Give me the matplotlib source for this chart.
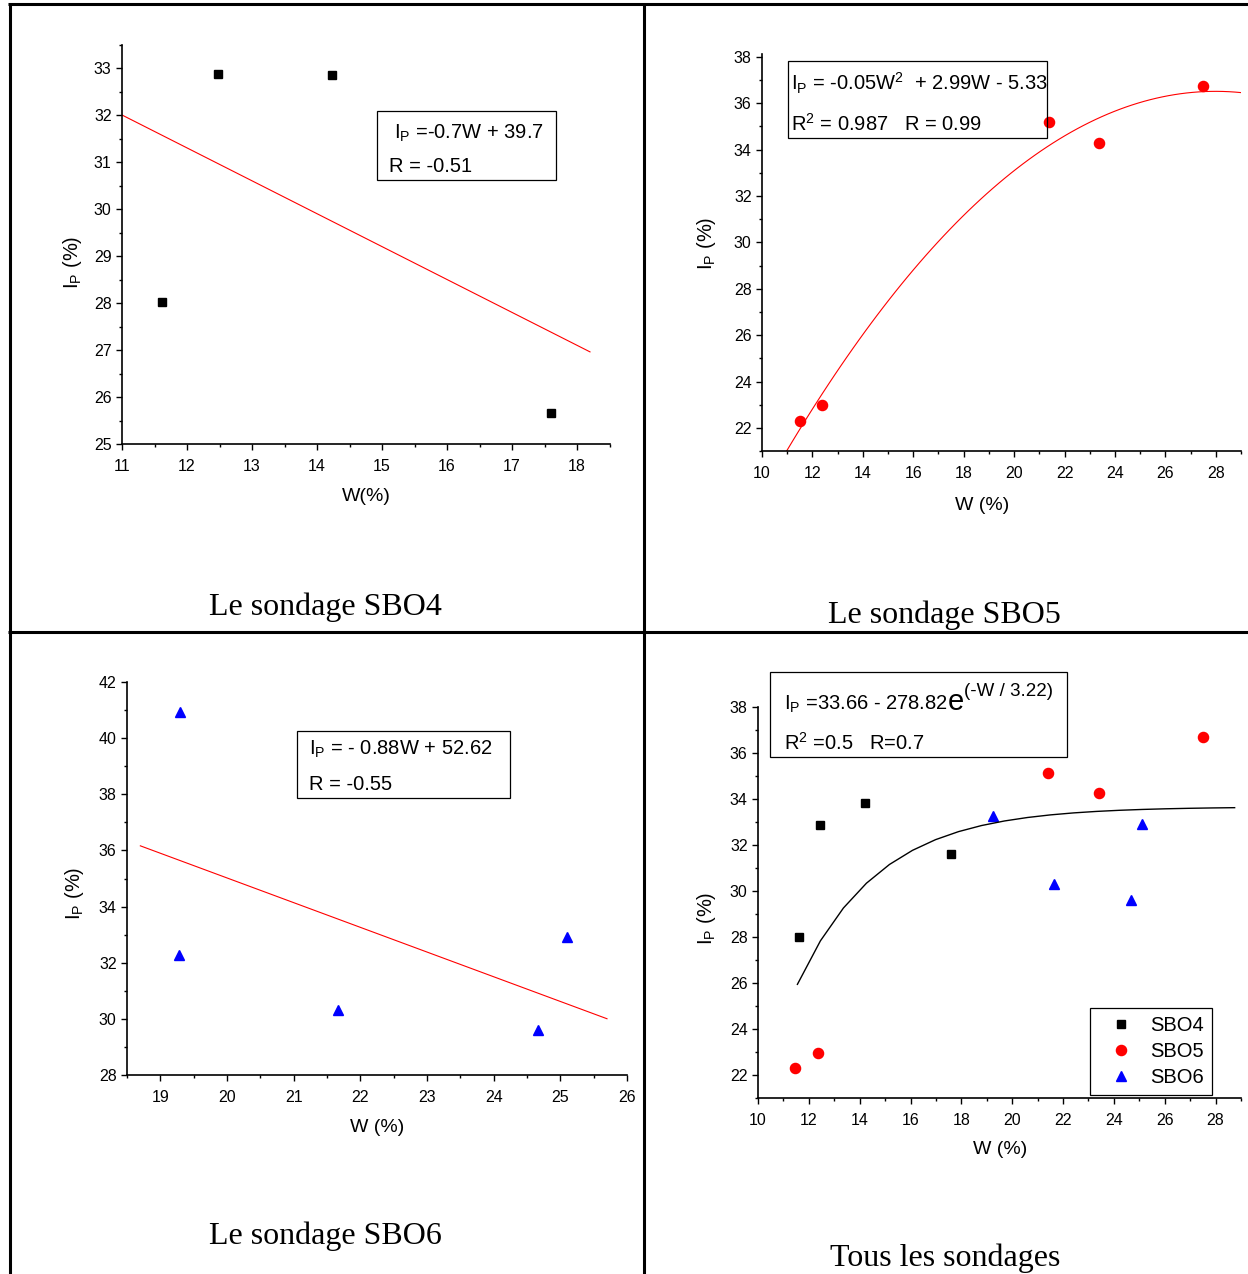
import numpy as np
import matplotlib
matplotlib.use("Agg")
import matplotlib.pyplot as plt
from matplotlib.lines import Line2D
from matplotlib.patches import Rectangle
from matplotlib.text import Annotation
from matplotlib.ticker import MultipleLocator, FormatStrFormatter

plt.rcParams["font.family"] = ["Liberation Sans", "DejaVu Sans"]
plt.rcParams["mathtext.fontset"] = "custom"
plt.rcParams["mathtext.rm"] = "Liberation Sans"
plt.rcParams["mathtext.it"] = "Liberation Sans:italic"
plt.rcParams["mathtext.bf"] = "Liberation Sans:bold"

# ---------------- data ----------------
# Borehole SBO4
w_sbo4 = [11.62, 12.47, 14.23, 17.6]
ip_sbo4 = [28.03, 32.88, 32.85, 25.65]
# Borehole SBO5
w_sbo5 = [11.5, 12.37, 21.4, 23.37, 27.5]
ip_sbo5 = [22.3, 22.97, 35.17, 34.28, 36.72]
# Borehole SBO6
w_sbo6 = [19.3, 19.28, 21.66, 24.67, 25.1]
ip_sbo6 = [40.93, 32.27, 30.32, 29.6, 32.92]
# All boreholes together
w_all_sbo4 = [11.6, 12.45, 14.2, 17.58]
ip_all_sbo4 = [28.0, 32.87, 33.83, 31.62]
w_all_sbo5 = [11.45, 12.37, 21.4, 23.4, 27.5]
ip_all_sbo5 = [22.3, 22.97, 35.15, 34.28, 36.7]
w_all_sbo6 = [19.25, 21.65, 24.66, 25.1]
ip_all_sbo6 = [33.27, 30.3, 29.6, 32.91]

# Regression models
lin_sbo4 = (-0.7, 39.7)          # slope, intercept
lin_sbo4_range = (11.0, 18.2)
lin_sbo6 = (-0.88, 52.62)
lin_sbo6_range = (18.7, 25.7)
exp_all = (33.66, 278.82, 3.22)  # a - b*exp(-W/c)
exp_all_range = (11.55, 28.75)

captions = ["Le sondage SBO4", "Le sondage SBO5", "Le sondage SBO6", "Tous les sondages"]
legend_labels = ["SBO4", "SBO5", "SBO6"]

W_PX, H_PX = 1248, 1274
fig = plt.figure(figsize=(W_PX / 100, H_PX / 100), dpi=100)


def fx(x):
    return x / W_PX


def fy(y):
    return 1 - y / H_PX


def add_axes(left, top, right, bottom):
    return fig.add_axes([fx(left), fy(bottom), (right - left) / W_PX, (bottom - top) / H_PX])


def style(ax, xlim, ylim, xmaj, xmin, ymaj, ymin):
    ax.set_xlim(*xlim)
    ax.set_ylim(*ylim)
    for s in ("top", "right"):
        ax.spines[s].set_visible(False)
    for s in ("left", "bottom"):
        ax.spines[s].set_linewidth(1.2)
    ax.xaxis.set_major_locator(MultipleLocator(xmaj))
    ax.xaxis.set_minor_locator(MultipleLocator(xmin))
    ax.yaxis.set_major_locator(MultipleLocator(ymaj))
    ax.yaxis.set_minor_locator(MultipleLocator(ymin))
    ax.xaxis.set_major_formatter(FormatStrFormatter("%d"))
    ax.yaxis.set_major_formatter(FormatStrFormatter("%d"))
    ax.tick_params(which="both", direction="out", width=1.0, labelsize=11.5)
    ax.tick_params(which="major", length=4)
    ax.tick_params(which="minor", length=2.3)
    ax.tick_params(axis="x", pad=6.5)
    ax.tick_params(axis="y", pad=3.5)
    ax.patch.set_alpha(0)


def ftext(x, y, s, **kw):
    return fig.text(fx(x), fy(y), s, **kw)


def box(l, t, r, b):
    fig.add_artist(Rectangle((fx(l), fy(b)), (r - l) / W_PX, (b - t) / H_PX,
                             transform=fig.transFigure, fill=False,
                             ec="black", lw=0.9))


IP = r"$\mathrm{I_P}$"
EQ = 14.5
sq = dict(marker="s", ms=6, color="black", ls="none")
ci = dict(marker="o", ms=7.3, color="red", ls="none")
tr = dict(marker="^", ms=7.5, color="blue", ls="none")

# ---------------- SBO4 ----------------
ax1 = add_axes(122, 44.5, 609.5, 444)
style(ax1, (11, 18.5), (25, 33.5), 1, 0.5, 1, 0.5)
ax1.plot(w_sbo4, ip_sbo4, **sq)
xs = np.array(lin_sbo4_range)
ax1.plot(xs, lin_sbo4[0] * xs + lin_sbo4[1], color="red", lw=0.8)
box(377, 111.5, 556, 180)
ftext(394, 139, IP + " =-0.7W + 39.7", fontsize=EQ, va="baseline")
ftext(389, 172, "R = -0.51", fontsize=EQ, va="baseline")
ftext(366, 497, "W(%)", fontsize=14, ha="center", va="center")
ftext(73, 262, IP + " (%)", fontsize=14.5, ha="center", va="center", rotation=90)

# ---------------- SBO5 ----------------
ax2 = add_axes(762, 54, 1241, 451.2)
style(ax2, (10, 29), (21, 38.12), 2, 1, 2, 1)
ax2.plot(w_sbo5, ip_sbo5, **ci)
coef = np.polyfit(w_sbo5, ip_sbo5, 2)
xq = np.linspace(10, 29, 80)
ax2.plot(xq, np.polyval(coef, xq), color="red", lw=0.8)
box(787.5, 61, 1046.5, 137.5)
ftext(791, 90.5, IP + r" = -0.05$\mathrm{W^2}$  + 2.99W - 5.33", fontsize=EQ, va="baseline")
ftext(791, 130.5, r"$\mathrm{R^2}$ = 0.987   R = 0.99", fontsize=EQ, va="baseline")
ftext(982, 505, "W (%)", fontsize=14, ha="center", va="center")
ftext(706, 243, IP + " (%)", fontsize=14.5, ha="center", va="center", rotation=90)

# ---------------- SBO6 ----------------
ax3 = add_axes(127, 682, 627, 1075)
style(ax3, (18.5, 26), (28, 42), 1, 0.5, 2, 1)
ax3.plot(w_sbo6, ip_sbo6, **tr)
xs = np.array(lin_sbo6_range)
ax3.plot(xs, lin_sbo6[0] * xs + lin_sbo6[1], color="red", lw=0.8)
box(297, 730.5, 509.5, 797.5)
ftext(309, 755, IP + " = - 0.88W + 52.62", fontsize=EQ, va="baseline")
ftext(309, 790, "R = -0.55", fontsize=EQ, va="baseline")
ftext(377, 1128, "W (%)", fontsize=14, ha="center", va="center")
ftext(75, 893, IP + " (%)", fontsize=14.5, ha="center", va="center", rotation=90)

# ---------------- all boreholes ----------------
ax4 = add_axes(758, 707, 1241, 1098)
style(ax4, (10, 29), (21, 38), 2, 1, 2, 1)
h1, = ax4.plot(w_all_sbo4, ip_all_sbo4, label=legend_labels[0], **sq)
h2, = ax4.plot(w_all_sbo5, ip_all_sbo5, label=legend_labels[1], **ci)
h3, = ax4.plot(w_all_sbo6, ip_all_sbo6, label=legend_labels[2], **tr)
a, b, c = exp_all
xe = np.linspace(*exp_all_range, 20)
ax4.plot(xe, a - b * np.exp(-xe / c), color="black", lw=1.0)
leg = ax4.legend(handles=[h1, h2, h3], loc="upper left",
                 bbox_to_anchor=(fx(1090), fy(1008)), bbox_transform=fig.transFigure,
                 borderaxespad=0, fontsize=14.5, frameon=True, fancybox=False,
                 borderpad=0.42, labelspacing=0.33, handlelength=2.2,
                 handletextpad=0.35, markerscale=1.0)
leg.get_frame().set_edgecolor("black")
leg.get_frame().set_linewidth(0.9)
leg.get_frame().set_alpha(1)

box(770, 672, 1066.5, 757)
t1 = ftext(784, 710, IP + " =33.66 - 278.82", fontsize=EQ, va="baseline")
e_ann = fig.add_artist(Annotation(
    "e", xy=(1, fy(710)), xycoords=(t1, "figure fraction"),
    fontsize=21, va="baseline", ha="left"))
fig.add_artist(Annotation(
    "(-W / 3.22)", xy=(1, fy(696)), xycoords=(e_ann, "figure fraction"),
    fontsize=13.5, va="baseline", ha="left"))
ftext(784, 750, r"$\mathrm{R^2}$ =0.5   R=0.7", fontsize=EQ, va="baseline")
ftext(1000, 1150, "W (%)", fontsize=14, ha="center", va="center")
ftext(706, 918, IP + " (%)", fontsize=14.5, ha="center", va="center", rotation=90)

# ---------------- captions ----------------
cap_kw = dict(fontsize=23, family=["Liberation Serif", "DejaVu Serif"], ha="center", va="baseline")
ftext(325.5, 615, captions[0], **cap_kw)
ftext(944.5, 623, captions[1], **cap_kw)
ftext(325.5, 1244, captions[2], **cap_kw)
ftext(945, 1266, captions[3], **cap_kw)

# ---------------- table rules ----------------
rule = dict(color="black", lw=2.2, transform=fig.transFigure, solid_capstyle="butt")
fig.add_artist(Line2D([fx(8), fx(1248)], [fy(4.2), fy(4.2)], **rule))
fig.add_artist(Line2D([fx(9.5), fx(9.5)], [fy(3), fy(1274)], **rule))
fig.add_artist(Line2D([fx(643.5), fx(643.5)], [fy(3), fy(1274)], **rule))
fig.add_artist(Line2D([fx(8), fx(1248)], [fy(631.7), fy(631.7)], **rule))

fig.savefig("out.png", dpi=100)
